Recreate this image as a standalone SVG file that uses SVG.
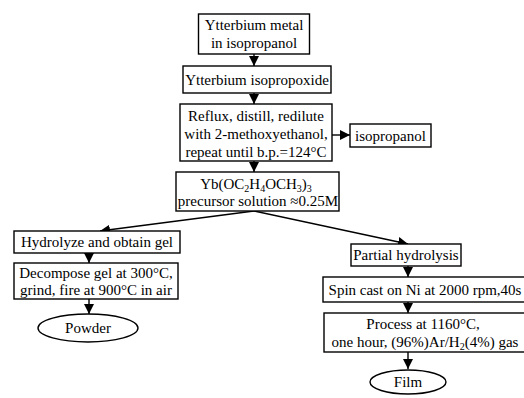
<svg xmlns="http://www.w3.org/2000/svg" width="524" height="398" viewBox="0 0 524 398">
<defs>
<marker id="ah" viewBox="0 0 10 10" refX="10" refY="5" markerWidth="10" markerHeight="10" markerUnits="userSpaceOnUse" orient="auto">
<path d="M0,0 L10,5 L0,10 Z" fill="#000"/>
</marker>
</defs>
<style>
rect,ellipse{fill:#fff;stroke:#000;stroke-width:1.4}
text{font-family:"Liberation Serif","Times New Roman",serif;font-size:15px;fill:#000;text-anchor:middle}
.c line{stroke:#000;stroke-width:1.4;marker-end:url(#ah)}
.s{font-size:10px}
</style>
<rect width="524" height="398" fill="#fff" style="stroke:none"/>
<g class="c" id="connectors">
<line x1="254" y1="54" x2="254" y2="66"/>
<line x1="254" y1="93" x2="254" y2="104"/>
<line x1="332" y1="135" x2="350" y2="135"/>
<line x1="254" y1="161" x2="254" y2="172"/>
<line x1="254" y1="211" x2="100" y2="231"/>
<line x1="254" y1="211" x2="408" y2="244"/>
<line x1="89" y1="253" x2="89" y2="263"/>
<line x1="89" y1="299" x2="89" y2="314"/>
<line x1="408" y1="266" x2="408" y2="277"/>
<line x1="408" y1="302" x2="408" y2="313"/>
<line x1="408" y1="352" x2="408" y2="369"/>
</g>
<g id="n1"><rect x="198.5" y="14" width="111" height="40"/><text x="254" y="30">Ytterbium metal</text><text x="254" y="48">in isopropanol</text></g>
<g id="n2"><rect x="183" y="66" width="148" height="27"/><text x="257" y="84.5">Ytterbium isopropoxide</text></g>
<g id="n3"><rect x="180" y="104" width="152" height="57"/><text x="256" y="120.5">Reflux, distill, redilute</text><text x="256" y="138.5">with 2-methoxyethanol,</text><text x="256" y="156.5">repeat until b.p.=124°C</text></g>
<g id="n4"><rect x="350" y="124" width="81" height="23"/><text x="390.5" y="140.5">isopropanol</text></g>
<g id="n5"><rect x="176" y="172" width="163" height="39"/><text x="256" y="188.5">Yb(OC<tspan class="s" dy="3">2</tspan><tspan dy="-3">H</tspan><tspan class="s" dy="3">4</tspan><tspan dy="-3">OCH</tspan><tspan class="s" dy="3">3</tspan><tspan dy="-3">)</tspan><tspan class="s" dy="3">3</tspan></text><text x="258" y="206">precursor solution ≈0.25M</text></g>
<g id="n6"><rect x="14" y="231" width="166" height="22"/><text x="97" y="247">Hydrolyze and obtain gel</text></g>
<g id="n7"><rect x="14" y="263" width="164" height="36"/><text x="96" y="277.5">Decompose gel at 300°C,</text><text x="96" y="295">grind, fire at 900°C in air</text></g>
<g id="n8"><ellipse cx="88" cy="328" rx="50" ry="14"/><text x="88" y="333">Powder</text></g>
<g id="n9"><rect x="351" y="244" width="110" height="22"/><text x="406" y="260">Partial hydrolysis</text></g>
<g id="n10"><rect x="323" y="277" width="203" height="25"/><text x="425" y="294.5">Spin cast on Ni at 2000 rpm,40s</text></g>
<g id="n11"><rect x="324" y="313" width="202" height="39"/><text x="423" y="329">Process at 1160°C,</text><text x="425" y="347">one hour, (96%)Ar/H<tspan class="s" dy="3">2</tspan><tspan dy="-3">(4%) gas</tspan></text></g>
<g id="n12"><ellipse cx="408" cy="382" rx="38" ry="12"/><text x="408" y="387">Film</text></g>
</svg>
